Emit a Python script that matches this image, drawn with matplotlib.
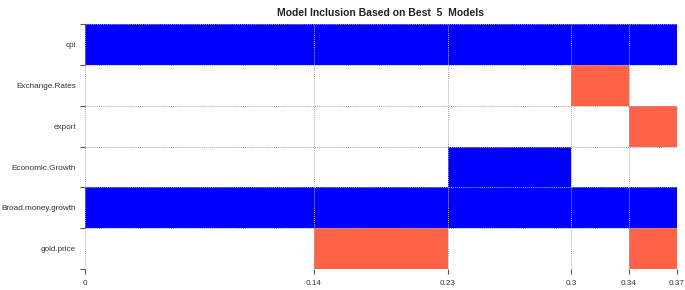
import matplotlib.pyplot as plt
import numpy as np

plt.rcParams['font.family'] = ['Liberation Sans', 'DejaVu Sans']

# variables, top to bottom
variables = ["cpi", "Exchange.Rates", "export", "Economic.Growth",
             "Broad.money.growth", "gold.price"]
# posterior model probabilities of the best 5 models
model_prob = [0.143, 0.084, 0.077, 0.036, 0.030]
# sign of each coefficient per model: 1 positive, -1 negative, 0 not included
inclusion = [
    [1, 1, 1, 1, 1],     # cpi
    [0, 0, 0, -1, 0],    # Exchange.Rates
    [0, 0, 0, 0, -1],    # export
    [0, 0, 1, 0, 0],     # Economic.Growth
    [1, 1, 1, 1, 1],     # Broad.money.growth
    [0, -1, 0, 0, -1],   # gold.price
]
tick_labels = ["0", "0.14", "0.23", "0.3", "0.34", "0.37"]

cum = np.concatenate([[0], np.cumsum(model_prob)])
n = len(variables)

fig = plt.figure(figsize=(6.85, 2.9), dpi=100)
ax = fig.add_axes([0.124, 0.072, 0.864, 0.845])

for i, var in enumerate(variables):
    y = n - 1 - i
    for j, p in enumerate(model_prob):
        s = inclusion[i][j]
        if s == 0:
            continue
        col = "#0000ff" if s > 0 else "#ff6347"
        ax.barh(y + 0.5, p, left=cum[j], height=1.0, color=col, linewidth=0)

ax.set_xlim(0, cum[-1])
ax.set_ylim(0, n)
ax.set_xticks(cum)
ax.set_xticklabels(tick_labels)
ax.set_yticks(np.arange(n + 1))
ax.set_yticklabels([])
ax.set_yticks(np.arange(n) + 0.5, minor=True)
ax.set_yticklabels(variables[::-1], minor=True)
ax.tick_params(axis="both", which="major", length=3.5, color="#555555", labelsize=5.9, pad=4)
ax.tick_params(axis="y", which="minor", length=0, pad=6.5, labelsize=5.9, labelcolor="#333333")
ax.tick_params(axis="x", labelcolor="#333333")
for sp in ax.spines.values():
    sp.set_visible(False)
ax.grid(True, which="major", color="#aaaaaa", linestyle=(0, (1, 1)), linewidth=0.7)
ax.set_axisbelow(False)

ax.set_title("Model Inclusion Based on Best  5  Models", fontsize=7.5, fontweight="bold",
             pad=6, color="#222222")

fig.savefig("out.png", dpi=100)
